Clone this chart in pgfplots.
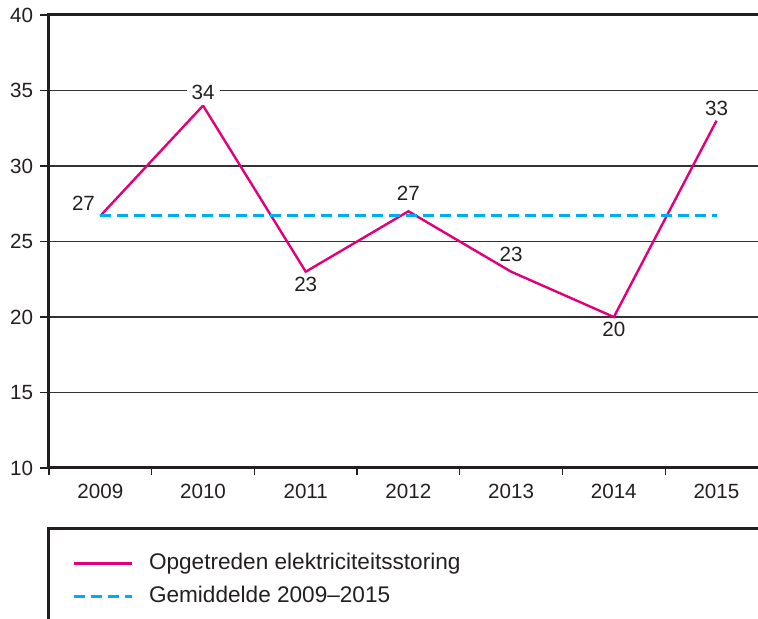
\documentclass[border=0pt]{standalone}
\usepackage{pgfplots}
\pgfplotsset{compat=1.18}
\usepackage{fontspec}
\setmainfont{Liberation Sans}
\definecolor{pinkline}{HTML}{E2007A}
\definecolor{blueline}{HTML}{00AEEF}
\definecolor{axisdark}{HTML}{231F20}
\begin{document}
\begin{tikzpicture}
\path[use as bounding box] (-24.5pt,-75.5pt) rectangle (354.5pt,234pt);
\begin{axis}[
  at={(0,0)}, anchor=south west, scale only axis,
  width=354.5pt, height=226.5pt,
  xmin=2008.5, xmax=2015.404, ymin=10, ymax=40,
  clip=false,
  axis line style={draw=none},
  tick pos=left, tick align=outside,
  xtick={2009,...,2015},
  xticklabels={2009,2010,2011,2012,2013,2014,2015},
  minor xtick={2008.5,2009.5,...,2014.5},
  major x tick style={draw=none},
  minor x tick style={axisdark, line width=0.6pt},
  minor tick length=3.5pt,
  ytick={10,15,...,40},
  major y tick style={axisdark, line width=0.6pt},
  major tick length=4.5pt,
  ymajorgrids, grid style={black!80, line width=0.6pt},
  /pgf/number format/assume math mode=true,
  /pgf/number format/1000 sep={},
  tick label style={font=\fontsize{10.3}{12}\selectfont, text=axisdark},
  legend style={at={(rel axis cs:0,0)}, anchor=north west, xshift=11.5pt, yshift=-41.5pt,
    draw=none, fill=none, inner sep=0pt, row sep=4.5pt, column sep=7pt,
    font=\fontsize{11.3}{13}\selectfont,
    nodes={inner sep=1pt, text height=8pt, text depth=2pt, text=axisdark}},
  legend cell align=left,
  legend image code/.code={\draw[#1] (0pt,0pt) -- (29pt,0pt);},
  lbl/.style={draw=none, no marks, forget plot, point meta=explicit symbolic,
    nodes near coords,
    every node near coord/.append style={anchor=#1, font=\fontsize{10.3}{12}\selectfont,
      text=axisdark, inner sep=2.5pt}},
]
\addplot[color=pinkline, line width=1.2pt, no marks]
  coordinates {(2009,26.7) (2010,34) (2011,23) (2012,27) (2013,23) (2014,20) (2015,33)};
\addlegendentry{Opgetreden elektriciteitsstoring}
\addplot[color=blueline, line width=1.3pt, dash pattern=on 5.5pt off 3pt, no marks]
  coordinates {(2009,26.71) (2015,26.71)};
\addlegendentry{Gemiddelde 2009--2015}
\addplot[lbl=south east] coordinates {(2009,26.7)[27]};
\addplot[lbl=south, every node near coord/.append style={fill=white}] coordinates {(2010,34)[34]};
\addplot[lbl=south] coordinates {(2015,33)[33]};
\addplot[lbl=south, every node near coord/.append style={yshift=2.5pt}] coordinates {(2012,27)[27] (2013,23)[23]};
\addplot[lbl=north] coordinates {(2011,23)[23] (2014,20)[20]};
\draw[axisdark, line width=1.5pt, line cap=rect] (rel axis cs:1,0) -- (rel axis cs:0,0) -- (rel axis cs:0,1) -- (rel axis cs:1,1);
\end{axis}
\draw[axisdark, line width=1.5pt] (0pt,-76pt) -- (0pt,-30.5pt) -- (355pt,-30.5pt);
\end{tikzpicture}
\end{document}
